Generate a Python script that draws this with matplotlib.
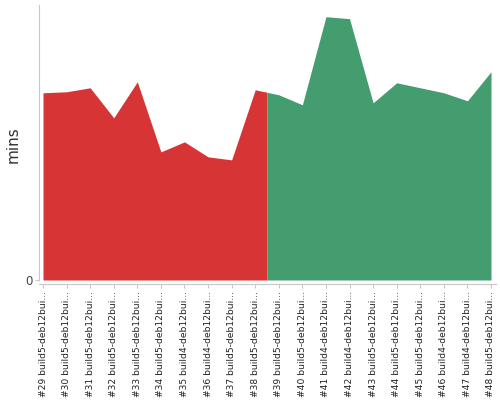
import matplotlib.pyplot as plt
import numpy as np

builds = ['#29 build5-deb12bui...', '#30 build5-deb12bui...', '#31 build5-deb12bui...',
          '#32 build5-deb12bui...', '#33 build5-deb12bui...', '#34 build5-deb12bui...',
          '#35 build4-deb12bui...', '#36 build4-deb12bui...', '#37 build5-deb12bui...',
          '#38 build5-deb12bui...', '#39 build5-deb12bui...', '#40 build5-deb12bui...',
          '#41 build4-deb12bui...', '#42 build4-deb12bui...', '#43 build5-deb12bui...',
          '#44 build5-deb12bui...', '#45 build5-deb12bui...', '#46 build4-deb12bui...',
          '#47 build4-deb12bui...', '#48 build5-deb12bui...']
mins = [18.7, 18.8, 19.2, 16.2, 19.8, 12.8, 13.8, 12.3, 12.0, 19.0,
        18.5, 17.5, 26.3, 26.1, 17.7, 19.7, 19.2, 18.7, 17.9, 20.8]
# index of the last failed (red) build, the rest passed
last_red = 9

red = '#d73535'
green = '#449d6e'

fig = plt.figure(figsize=(5, 4), dpi=100)
# axes in pixels: x 39..496, y 5..284 (from top)
ax = fig.add_axes([39.3 / 500, (400 - 284) / 400, (496 - 39.3) / 500, (284 - 5) / 400])

x = np.arange(len(mins), dtype=float)
y = np.array(mins, dtype=float)
split = last_red + 0.5
y_split = np.interp(split, x, y)

xr = np.append(x[:last_red + 1], split)
yr = np.append(y[:last_red + 1], y_split)
xg = np.insert(x[last_red + 1:], 0, split)
yg = np.insert(y[last_red + 1:], 0, y_split)
ax.fill_between(xr, 0, yr, color=red, lw=0)
ax.fill_between(xg, 0, yg, color=green, lw=0)

px_x = (491 - 43) / 19
ax.set_xlim(-(43 - 39.3) / px_x, 19 + 5 / px_x)
px_y = 263.3 / 26.3
ax.set_ylim(-4 / px_y, (280 - 5) / px_y)

for s in ['top', 'right']:
    ax.spines[s].set_visible(False)
ax.spines['left'].set_color('#c8c8c8')
ax.spines['bottom'].set_color('#c8c8c8')
ax.spines['left'].set_bounds(0, (280 - 5) / px_y)

ax.set_xticks(x)
ax.set_xticklabels(builds, rotation=90, fontsize=6.6, color='#222222')
ax.set_yticks([0])
ax.set_yticklabels(['0'], fontsize=8.5, color='#444444')
ax.tick_params(axis='both', color='#c8c8c8', length=3, pad=2)
ax.set_ylabel('mins', fontsize=11, color='#333333', labelpad=3)

fig.savefig('out.png', dpi=100)
